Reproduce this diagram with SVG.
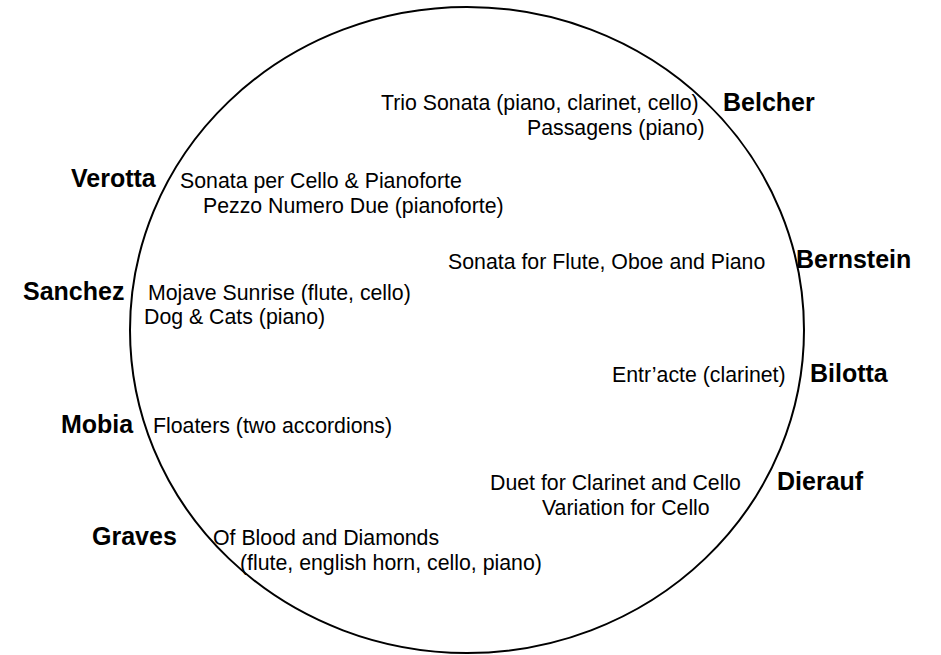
<svg xmlns="http://www.w3.org/2000/svg" width="941" height="655" viewBox="0 0 941 655">
<style>
.t{font-family:"Liberation Sans",Arial,sans-serif;font-size:21.3px;fill:#000}
.n{font-family:"Liberation Sans",Arial,sans-serif;font-size:25px;font-weight:bold;fill:#000}
</style>
<rect width="941" height="655" fill="#fff"/>
<g id="connectors">
<ellipse cx="467" cy="330" rx="337" ry="323" fill="none" stroke="#000" stroke-width="2"/>
</g>
<g id="belcher"><text class="n" x="723" y="111">Belcher</text><text class="t" x="381" y="110">Trio Sonata (piano, clarinet, cello)</text><text class="t" x="527" y="135">Passagens (piano)</text></g>
<g id="verotta"><text class="n" x="71" y="187">Verotta</text><text class="t" x="180" y="188">Sonata per Cello &amp; Pianoforte</text><text class="t" x="203" y="213">Pezzo Numero Due (pianoforte)</text></g>
<g id="bernstein"><text class="n" x="796" y="268">Bernstein</text><text class="t" x="448" y="269">Sonata for Flute, Oboe and Piano</text></g>
<g id="sanchez"><text class="n" x="23" y="300">Sanchez</text><text class="t" x="148" y="300">Mojave Sunrise (flute, cello)</text><text class="t" x="144" y="324">Dog &amp; Cats (piano)</text></g>
<g id="bilotta"><text class="n" x="810" y="382">Bilotta</text><text class="t" x="612" y="382">Entr’acte (clarinet)</text></g>
<g id="mobia"><text class="n" x="61" y="433">Mobia</text><text class="t" x="153" y="433">Floaters (two accordions)</text></g>
<g id="dierauf"><text class="n" x="777" y="490">Dierauf</text><text class="t" x="490" y="490">Duet for Clarinet and Cello</text><text class="t" x="542" y="515">Variation for Cello</text></g>
<g id="graves"><text class="n" x="92" y="545">Graves</text><text class="t" x="213" y="545">Of Blood and Diamonds</text><text class="t" x="240" y="570">(flute, english horn, cello, piano)</text></g>
</svg>
